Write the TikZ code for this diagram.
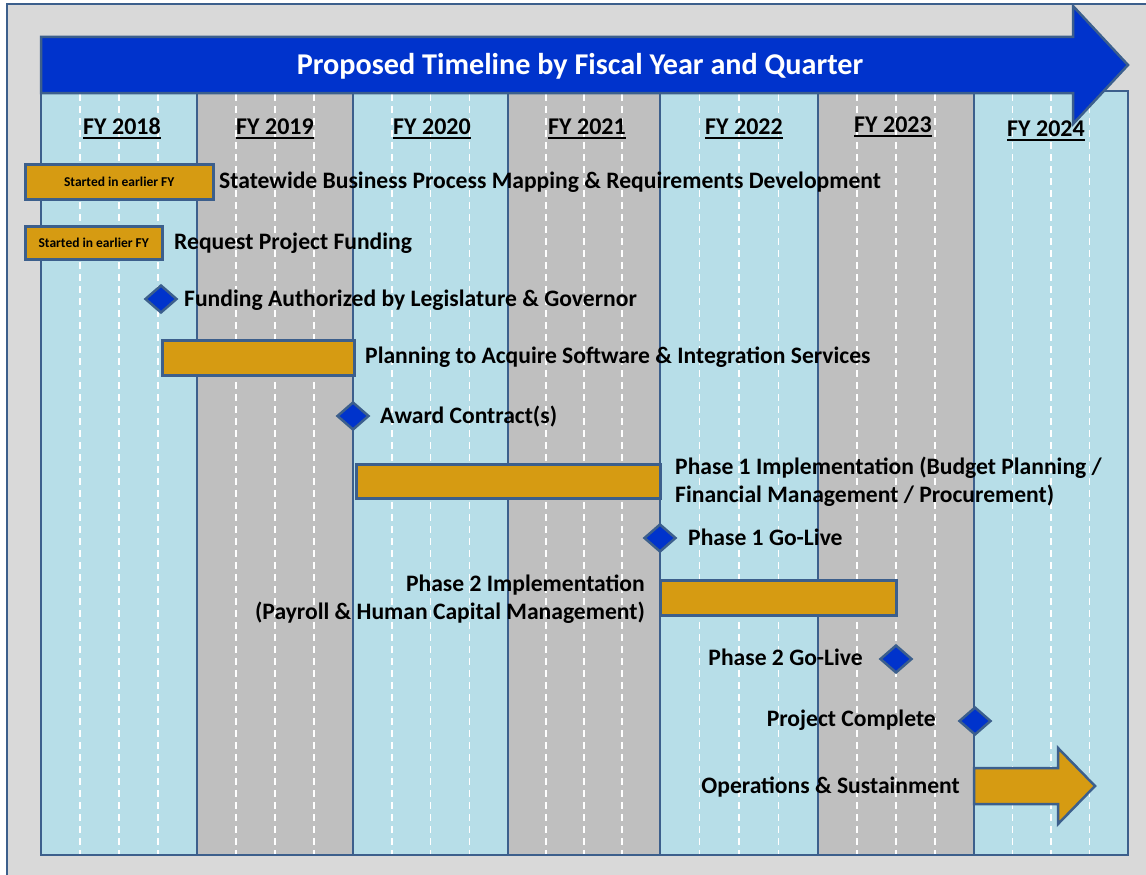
\documentclass[tikz,border=0pt]{standalone}
\usepackage{fontspec}
\setmainfont{Carlito}
\usetikzlibrary{shapes.geometric}
\definecolor{frameline}{RGB}{60,95,140}
\definecolor{framegray}{RGB}{217,217,217}
\definecolor{colblue}{RGB}{183,222,232}
\definecolor{colgray}{RGB}{191,191,191}
\definecolor{bannerblue}{RGB}{0,51,204}
\definecolor{gold}{RGB}{214,155,18}
\newcommand\fyul[1]{\setbox0\hbox{#1}\leavevmode\rlap{\rule[-4.5pt]{\wd0}{2pt}}\box0}
\tikzset{
  border/.style={draw=frameline, line width=2.5pt},
  qline/.style={draw=white, line width=1.5pt, dash pattern=on 7pt off 5pt},
  bar/.style={border, fill=gold, inner sep=0pt, font=\bfseries\fontsize{13.5}{16}\selectfont},
  ms/.style={diamond, border, fill=bannerblue, inner sep=0pt, minimum width=32pt, minimum height=28pt},
  lbl/.style={inner sep=0pt, font=\bfseries\fontsize{23.6}{28}\selectfont},
  one/.style={text height=15.2pt, text depth=0pt},
  fy/.style={inner sep=0pt, text height=15.5pt, text depth=0pt, font=\bfseries\fontsize{24}{28}\selectfont},
  title/.style={inner sep=0pt, text=white, text height=19.4pt, text depth=0pt, font=\bfseries\fontsize{30.2}{34}\selectfont}
}
\begin{document}
\begin{tikzpicture}[x=1pt,y=-1pt]
\useasboundingbox (0,0) rectangle (1146,875);
\fill[white] (0,0) rectangle (1146,875);
\begin{scope}
\clip (0,0) rectangle (1146,875);
\draw[border, fill=framegray] (7,4) rectangle (1165,895);
\end{scope}
% columns
\foreach \a/\b/\c in {41/197/colblue,197/353/colgray,353/508/colblue,508/660/colgray,660/818/colblue,818/974/colgray,974/1128/colblue}
  \draw[border, fill=\c] (\a,91) rectangle (\b,855);
% quarter lines
\foreach \a/\b in {41/197,197/353,353/508,508/660,660/818,818/974,974/1128}
  \foreach \k in {1,2,3}
    \draw[qline] ({\a+\k*(\b-\a)/4},94) -- ({\a+\k*(\b-\a)/4},854);
% banner
\draw[border, fill=bannerblue] (41,37) -- (1073,37) -- (1073,6) -- (1128,65) -- (1073,124) -- (1073,93) -- (41,93) -- cycle;
\node[title] (t) at (580,65) {Proposed Timeline by Fiscal Year and Quarter};
% FY labels
\node[fy] (fy18) at (122,127) {\fyul{FY 2018}};
\node[fy] (fy19) at (275,127) {\fyul{FY 2019}};
\node[fy] (fy20) at (432,127) {\fyul{FY 2020}};
\node[fy] (fy21) at (587,127) {\fyul{FY 2021}};
\node[fy] (fy22) at (744,127) {\fyul{FY 2022}};
\node[fy] (fy23) at (893,125) {\fyul{FY 2023}};
\node[fy] (fy24) at (1046,129) {\fyul{FY 2024}};
% bars
\node[bar, anchor=north west, minimum width=188pt, minimum height=35pt] (b1) at (24,163) {Started in earlier FY};
\node[bar, anchor=north west, minimum width=137pt, minimum height=33pt] (b2) at (24,225) {Started in earlier FY};
\node[bar, anchor=north west, minimum width=192pt, minimum height=35pt] (b4) at (161,339) {};
\node[bar, anchor=north west, minimum width=304pt, minimum height=34pt] (b6) at (355,463) {};
\node[bar, anchor=north west, minimum width=236pt, minimum height=35pt] (b8) at (659,579) {};
\draw[border, fill=gold] (974,768) -- (1058,768) -- (1058,748) -- (1095,786) -- (1058,824) -- (1058,804) -- (974,804) -- cycle;
\coordinate (ops) at (974,786);
% milestones
\node[ms] (m3) at (161,299) {};
\node[ms] (m5) at (353,416) {};
\node[ms] (m7) at (660,538) {};
\node[ms] (m9) at (896,659) {};
\node[ms] (m10) at (975,721) {};
% labels
\node[lbl, one, anchor=west] (l1) at (219,181) {Statewide Business Process Mapping \& Requirements Development};
\node[lbl, one, anchor=west] (l2) at (174,242) {Request Project Funding};
\node[lbl, one, anchor=west] (l3) at (184,299) {Funding Authorized by Legislature \& Governor};
\node[lbl, one, anchor=west] (l4) at (365,356) {Planning to Acquire Software \& Integration Services};
\node[lbl, one, anchor=west] (l5) at (380,416) {Award Contract(s)};
\node[lbl, anchor=west, align=left] (l6) at (675,482) {Phase 1 Implementation (Budget Planning /\\Financial Management / Procurement)};
\node[lbl, one, anchor=west] (l7) at (688,538) {Phase 1 Go-Live};
\node[lbl, anchor=east, align=right] (l8) at (645,599) {Phase 2 Implementation\\(Payroll \& Human Capital Management)};
\node[lbl, one, anchor=east] (l9) at (863,658) {Phase 2 Go-Live};
\node[lbl, one, anchor=east] (l10) at (936,719) {Project Complete};
\node[lbl, one, anchor=east] (l11) at (960,786) {Operations \& Sustainment};
\end{tikzpicture}
\end{document}
